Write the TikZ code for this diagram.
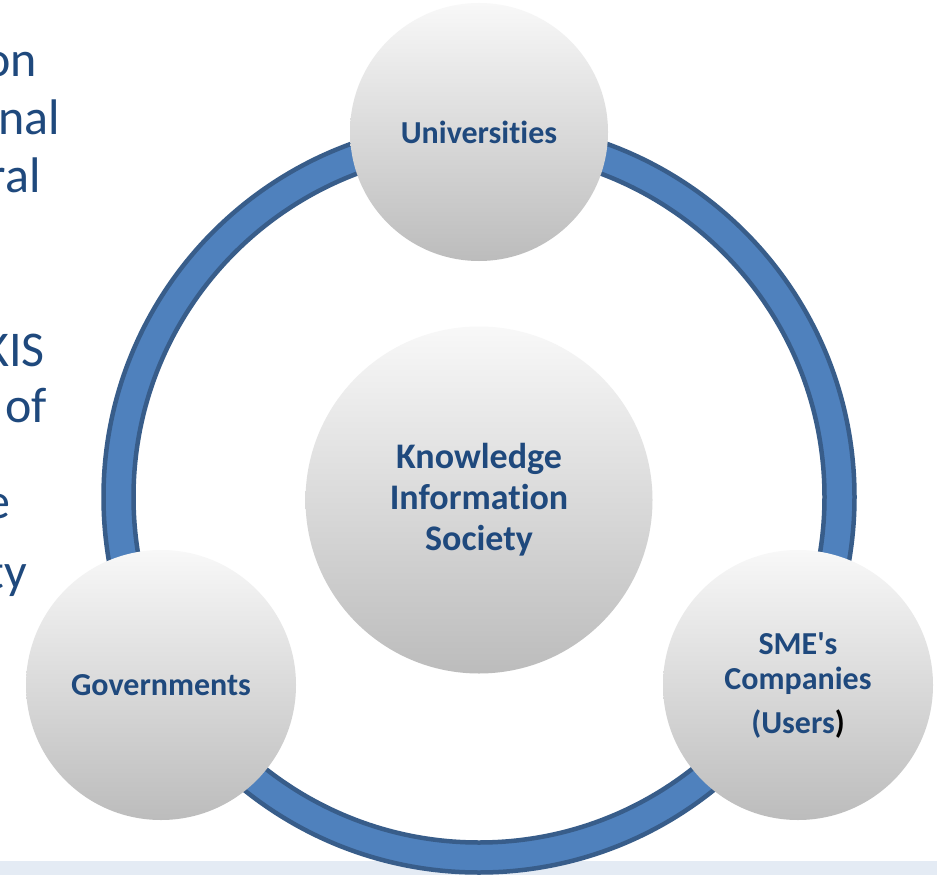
\documentclass[tikz,border=0pt]{standalone}
\usepackage{fontspec}
\setmainfont[Ligatures={CommonOff,TeXOff}]{Carlito}
\definecolor{txtblue}{HTML}{1F497D}
\definecolor{ringfill}{HTML}{4F81BD}
\definecolor{ringline}{HTML}{385D8A}
\definecolor{panelblue}{HTML}{E4EBF4}
\definecolor{ctop}{HTML}{F8F8F8}
\definecolor{cbot}{HTML}{BCBCBC}
\begin{document}
\begin{tikzpicture}[x=1pt,y=-1pt,
  bubble/.style={circle, inner sep=0pt, top color=ctop, bottom color=cbot, draw=none,
    align=center, text=txtblue, font=\fontsize{32}{35}\selectfont\bfseries},
  sidetext/.style={anchor=base east, text=txtblue, inner sep=0pt,
    font=\fontsize{50}{58}\selectfont},
  ring/.style={draw=ringline, fill=ringfill, line width=4.5pt, even odd rule}]
\useasboundingbox (0,0) rectangle (937,875);
\clip (0,0) rectangle (937,875);
\fill[white] (0,0) rectangle (937,875);
\fill[panelblue] (0,861) rectangle (937,875);

% cut-off text on the left
\node[sidetext] (t1) at (37,77) {on};
\node[sidetext] (t2) at (60,134) {onal};
\node[sidetext] (t3) at (41,192) {ral};
\node[sidetext] (t4) at (45,366) {KIS};
\node[sidetext] (t5) at (47,422) {of};
\node[sidetext] (t6) at (11,518) {e};
\node[sidetext] (t7) at (27,588) {ty};

% ring
\coordinate (ringc) at (479,497);
\path[ring] (ringc) circle[radius=375.5pt] (ringc) circle[radius=345.5pt];

% circles
\node[bubble, minimum size=347pt, font=\fontsize{36}{41}\selectfont\bfseries] (kis) at (479,500)
  {Knowledge\\Information\\Society};
\node[bubble, minimum size=258pt] (uni) at (479,132) {Universities};
\node[bubble, minimum size=270pt] (gov) at (161,685) {Governments};
\node[bubble, minimum size=270pt] (sme) at (798,685)
  {SME's\\Companies\\[9pt](Users{\color{black})}};
\end{tikzpicture}
\end{document}
